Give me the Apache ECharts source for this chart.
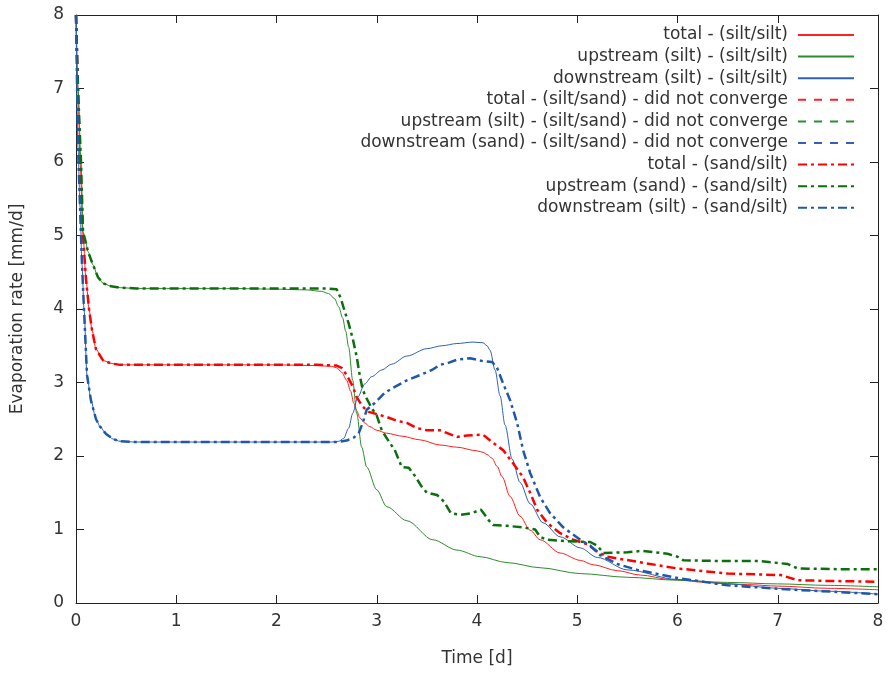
<!DOCTYPE html>
<html>
<head>
<meta charset="utf-8">
<script src="https://cdn.jsdelivr.net/npm/echarts@6/dist/echarts.min.js"></script>
<style>
html,body{margin:0;padding:0;background:#fff;}
#chart{width:891px;height:673px;}
</style>
</head>
<body>
<div id="chart"></div>
<script>
// ---- Data (time in days, evaporation rate in mm/d) ----
var seriesNames = [
  'total - (silt/silt)',
  'upstream (silt) - (silt/silt)',
  'downstream (silt) - (silt/silt)',
  'total - (silt/sand) - did not converge',
  'upstream (silt) - (silt/sand) - did not converge',
  'downstream (sand) - (silt/sand) - did not converge',
  'total - (sand/silt)',
  'upstream (sand) - (sand/silt)',
  'downstream (silt) - (sand/silt)'
];
var xTicks = [0,1,2,3,4,5,6,7,8];
var yTicks = [0,1,2,3,4,5,6,7,8];

// total (silt/silt)
var tTotalSS = [0,0.02,0.04,0.07,0.1,0.13,0.16,0.2,0.27,0.35,0.44,0.6,1,1.5,2,2.4,2.55,2.6,2.65,2.7,2.74,2.77,2.8,2.83,2.88,2.93,3.0,3.1,3.25,3.43,3.63,3.8,4.0,4.06,4.1,4.15,4.2,4.25,4.33,4.43,4.53,4.63,4.83,5.03,5.16,5.4,5.63,5.93,6.3,6.7,7.0,7.5,8];
var vTotalSS = [8,7.0,6.0,5.0,4.4,4.0,3.71,3.45,3.3,3.26,3.24,3.24,3.24,3.24,3.24,3.23,3.22,3.2,3.14,3.03,2.88,2.72,2.62,2.52,2.45,2.4,2.35,2.31,2.27,2.22,2.15,2.12,2.07,2.05,2.02,1.97,1.86,1.72,1.45,1.18,0.99,0.86,0.68,0.58,0.52,0.44,0.38,0.32,0.28,0.25,0.23,0.2,0.18];

// upstream silt (silt/silt)
var tUpSS = [0,0.02,0.05,0.07,0.09,0.12,0.17,0.22,0.27,0.35,0.44,0.6,1,1.5,2,2.3,2.45,2.52,2.58,2.62,2.66,2.69,2.72,2.76,2.8,2.85,2.9,3.0,3.1,3.3,3.56,3.8,4.03,4.3,4.63,5.03,5.5,6.0,6.5,7.0,7.5,8];
var vUpSS = [8,7.0,6.0,5.05,4.95,4.78,4.6,4.43,4.35,4.31,4.29,4.28,4.28,4.28,4.27,4.26,4.24,4.21,4.14,4.03,3.88,3.7,3.48,3.03,2.58,2.12,1.85,1.54,1.31,1.12,0.86,0.72,0.63,0.55,0.48,0.4,0.35,0.31,0.28,0.26,0.24,0.22];

// downstream silt (silt/silt)
var tDownSS = [0,0.02,0.04,0.06,0.08,0.11,0.15,0.2,0.24,0.3,0.37,0.44,0.6,1,1.5,2,2.4,2.55,2.62,2.67,2.72,2.76,2.81,2.88,2.95,3.05,3.15,3.3,3.5,3.65,3.8,3.96,4.06,4.1,4.13,4.18,4.23,4.28,4.35,4.43,4.53,4.66,4.83,5.03,5.2,5.5,6.0,6.5,7.0,7.5,8];
var vDownSS = [8,6.2,5.4,4.6,3.99,3.1,2.75,2.5,2.4,2.3,2.23,2.2,2.19,2.19,2.19,2.19,2.19,2.19,2.2,2.24,2.38,2.58,2.8,2.98,3.08,3.17,3.25,3.36,3.46,3.5,3.53,3.55,3.54,3.5,3.44,3.17,2.82,2.42,1.96,1.64,1.35,1.09,0.9,0.75,0.62,0.45,0.32,0.26,0.2,0.16,0.12];

// silt/sand runs did not converge: no data plotted
var tTotalSD = [], vTotalSD = [];
var tUpSD = [], vUpSD = [];
var tDownSD = [], vDownSD = [];

// total (sand/silt)
var tTotalDS = [0,0.02,0.04,0.07,0.1,0.13,0.16,0.2,0.27,0.35,0.44,0.6,1,1.5,2,2.4,2.6,2.65,2.7,2.76,2.8,2.86,2.92,3.0,3.1,3.2,3.3,3.4,3.5,3.63,3.8,3.9,4.06,4.16,4.26,4.36,4.46,4.53,4.6,4.7,4.83,4.96,5.1,5.2,5.3,5.6,6.0,6.5,7.03,7.2,7.5,8];
var vTotalDS = [8,7.0,6.0,5.0,4.4,4.0,3.71,3.45,3.3,3.26,3.24,3.24,3.24,3.24,3.24,3.24,3.23,3.2,3.1,2.95,2.8,2.67,2.6,2.57,2.53,2.48,2.45,2.38,2.35,2.35,2.26,2.28,2.29,2.18,2.08,1.9,1.71,1.5,1.27,1.09,0.95,0.86,0.8,0.7,0.63,0.56,0.47,0.4,0.38,0.31,0.3,0.29];

// upstream sand (sand/silt)
var tUpDS = [0,0.02,0.05,0.07,0.09,0.12,0.17,0.22,0.27,0.35,0.44,0.6,1,1.5,2,2.3,2.5,2.6,2.64,2.68,2.72,2.76,2.8,2.83,2.86,2.9,2.95,3.0,3.05,3.12,3.18,3.25,3.32,3.38,3.45,3.5,3.6,3.67,3.74,3.84,3.94,4.04,4.12,4.16,4.3,4.45,4.58,4.63,4.7,4.9,5.13,5.2,5.26,5.5,5.65,5.9,6.0,6.06,6.5,6.83,7.1,7.2,7.6,8];
var vUpDS = [8,7.0,6.0,5.05,4.95,4.78,4.6,4.43,4.35,4.31,4.29,4.28,4.28,4.28,4.28,4.28,4.28,4.27,4.15,3.97,3.8,3.6,3.35,3.1,2.9,2.78,2.65,2.55,2.35,2.2,2.08,1.85,1.84,1.73,1.58,1.5,1.47,1.38,1.22,1.2,1.22,1.27,1.12,1.06,1.05,1.03,1.0,0.9,0.86,0.84,0.83,0.78,0.68,0.69,0.71,0.67,0.63,0.58,0.57,0.57,0.53,0.47,0.46,0.46];

// downstream silt (sand/silt)
var tDownDS = [0,0.02,0.04,0.06,0.08,0.11,0.15,0.2,0.24,0.3,0.37,0.44,0.6,1,1.5,2,2.4,2.6,2.7,2.77,2.82,2.86,2.9,2.98,3.08,3.18,3.3,3.43,3.55,3.63,3.72,3.8,3.93,4.06,4.15,4.2,4.26,4.33,4.4,4.46,4.53,4.63,4.73,4.86,5.03,5.13,5.23,5.4,5.6,6.0,6.5,7.16,7.6,8];
var vDownDS = [8,6.2,5.4,4.6,3.99,3.1,2.75,2.5,2.4,2.3,2.23,2.2,2.19,2.19,2.19,2.19,2.19,2.19,2.21,2.25,2.31,2.45,2.63,2.72,2.86,2.94,3.03,3.1,3.17,3.24,3.27,3.31,3.33,3.29,3.28,3.2,2.99,2.76,2.45,2.08,1.77,1.44,1.22,1.03,0.86,0.78,0.65,0.53,0.45,0.34,0.24,0.18,0.15,0.12];

function pairs(t, v) { return t.map(function (x, i) { return [x, v[i]]; }); }

var dataSets = [
  pairs(tTotalSS, vTotalSS), pairs(tUpSS, vUpSS), pairs(tDownSS, vDownSS),
  pairs(tTotalSD, vTotalSD), pairs(tUpSD, vUpSD), pairs(tDownSD, vDownSD),
  pairs(tTotalDS, vTotalDS), pairs(tUpDS, vUpDS), pairs(tDownDS, vDownDS)
];

// ---- Styles ----
var colors = ['#ff2020','#2e8b2e','#2f62b0','#ff2020','#2e8b2e','#2f62b0','#ff0000','#0d6e0d','#1f58a8'];
var lineTypes = ['solid','solid','solid',[8,8],[8,8],[8,8],[9,4,3,4],[9,4,3,4],[9,4,3,4]];
var widths = [1,1,1,1,1,1,2.5,2.5,2.5];
var smoothing = [0.3,0.3,0.3,0,0,0,0,0,0];

var series = seriesNames.map(function (name, i) {
  return {
    name: name,
    type: 'line',
    data: dataSets[i],
    showSymbol: false,
    symbol: 'none',
    smooth: smoothing[i],
    smoothMonotone: 'x',
    clip: true,
    lineStyle: { color: colors[i], width: widths[i], type: lineTypes[i] },
    itemStyle: { color: colors[i] }
  };
});

var font = 'DejaVu Sans';
var fs = 17;
var txtColor = '#333';
var axisLineStyle = { color: '#222', width: 1 };

var chart = echarts.init(document.getElementById('chart'), null, { renderer: 'canvas' });
chart.setOption({
  animation: false,
  backgroundColor: '#ffffff',
  grid: { left: 76, right: 13, top: 15, bottom: 70, containLabel: false },
  legend: {
    orient: 'vertical',
    right: 31,
    top: 20,
    align: 'right',
    itemWidth: 56,
    itemHeight: 20,
    itemGap: 1.6,
    itemStyle: { opacity: 0 },
    textStyle: { fontFamily: font, fontSize: fs, color: txtColor, lineHeight: 20, padding: [0, 5, 0, 0] },
    data: seriesNames
  },
  xAxis: [
    {
      type: 'value', min: 0, max: 8, interval: 1, position: 'bottom',
      name: 'Time [d]', nameLocation: 'middle', nameGap: 47,
      nameTextStyle: { fontFamily: font, fontSize: fs, color: txtColor },
      axisLine: { show: true, onZero: false, lineStyle: axisLineStyle },
      axisTick: { show: true, inside: true, length: 8, lineStyle: axisLineStyle },
      axisLabel: { fontFamily: font, fontSize: fs, color: txtColor, margin: 10,
        formatter: function (v) { return xTicks.indexOf(v) >= 0 ? String(v) : ''; } },
      splitLine: { show: false }
    },
    {
      type: 'value', min: 0, max: 8, interval: 1, position: 'top',
      axisLine: { show: true, onZero: false, lineStyle: axisLineStyle },
      axisTick: { show: true, inside: true, length: 8, lineStyle: axisLineStyle },
      axisLabel: { show: false },
      splitLine: { show: false }
    }
  ],
  yAxis: [
    {
      type: 'value', min: 0, max: 8, interval: 1, position: 'left',
      name: 'Evaporation rate [mm/d]', nameLocation: 'middle', nameGap: 50,
      nameTextStyle: { fontFamily: font, fontSize: fs, color: txtColor },
      axisLine: { show: true, onZero: false, lineStyle: axisLineStyle },
      axisTick: { show: true, inside: true, length: 8, lineStyle: axisLineStyle },
      axisLabel: { fontFamily: font, fontSize: fs, color: txtColor, margin: 12,
        formatter: function (v) { return yTicks.indexOf(v) >= 0 ? String(v) : ''; } },
      splitLine: { show: false }
    },
    {
      type: 'value', min: 0, max: 8, interval: 1, position: 'right',
      axisLine: { show: true, onZero: false, lineStyle: axisLineStyle },
      axisTick: { show: true, inside: true, length: 8, lineStyle: axisLineStyle },
      axisLabel: { show: false },
      splitLine: { show: false }
    }
  ],
  series: series
});
</script>
</body>
</html>
